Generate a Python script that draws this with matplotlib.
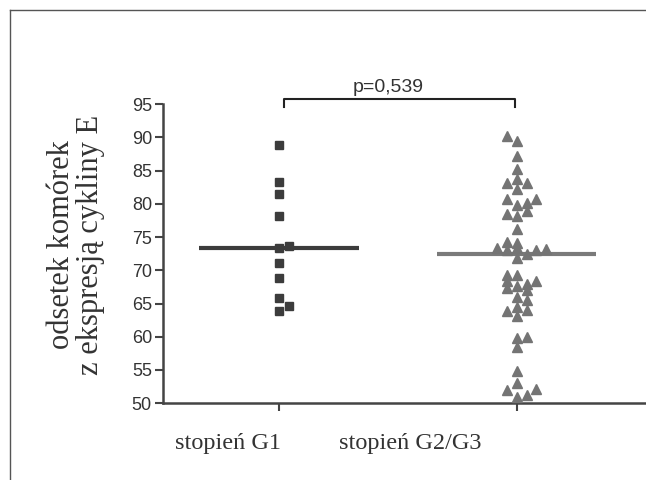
import numpy as np
import matplotlib.pyplot as plt
from matplotlib.lines import Line2D

# values
groups = ["stopień G1", "stopień G2/G3"]

g1_vals = [88.8, 83.3, 81.5, 78.2, 73.3, 73.7, 71.1, 68.8, 65.9, 64.7, 63.8]
g1_slot = [0, 0, 0, 0, 0, 1, 0, 0, 0, 1, 0]

g2_vals = [90.2, 89.4, 87.2, 85.3, 83.1, 83.7, 83.2, 82.2, 80.8, 79.9, 80.1, 80.7,
           78.9, 78.4, 78.2, 76.2,
           74.3, 74.1, 73.3, 73.1, 73.4, 71.9, 72.4, 73.1, 73.2,
           69.3, 69.3, 68.4, 67.3, 67.6, 67.9, 68.4, 66.0, 67.0, 65.6, 64.5, 64.1,
           63.8, 63.1, 59.8, 60.0, 58.4, 54.8, 53.1, 52.0, 52.1, 51.2, 51.0]
g2_slot = [-1, 0, 0, 0, -1, 0, 1, 0, -1, 0, 1, 2,
           1, -1, 0, 0,
           -1, 0, -2, -1, 0, 0, 1, 2, 3,
           -1, 0, -1, -1, 0, 1, 2, 0, 1, 1, 0, 1,
           -1, 0, 0, 1, 0, 0, 0, -1, 2, 1, 0]

medians = [73.4, 72.45]
p_text = "p=0,539"

fig = plt.figure(figsize=(6.46, 4.8), dpi=100)
ax = fig.add_axes([163/646, 0.160, 1 - 163/646, 0.623])

step = 0.041  # horizontal spacing of jittered points
ax.plot(np.zeros(len(g1_vals)) + np.array(g1_slot) * step, g1_vals, 's',
        color='#3c3c3c', markersize=5.5, zorder=3)
ax.plot(np.ones(len(g2_vals)) + np.array(g2_slot) * step, g2_vals, '^',
        color='#747474', markersize=6.5, zorder=3)

ax.hlines(medians[0], -0.336, 0.336, color='#3c3c3c', lw=3, zorder=2)
ax.hlines(medians[1], 0.662, 1.33, color='#7a7a7a', lw=3, zorder=2)

ax.set_xlim(-0.487, 1.542)
ax.set_ylim(50, 95)
ax.set_yticks(np.arange(50, 96, 5))
ax.set_xticks([0, 1])
ax.set_xticklabels(["", ""])
for s in ['top', 'right']:
    ax.spines[s].set_visible(False)
for s in ['left', 'bottom']:
    ax.spines[s].set_color('#444444')
    ax.spines[s].set_linewidth(1.8)
ax.tick_params(axis='both', colors='#444444', width=1.5, length=6,
               labelsize=13, labelcolor='#333333', pad=2)
for lab in ax.get_yticklabels():
    lab.set_fontfamily('Liberation Sans')

# group labels, placed as in the original (left of the ticks)
ax.text(-0.214, -0.135, groups[0], transform=ax.get_xaxis_transform(),
        ha='center', va='center', fontsize=17.5, family='Liberation Serif', color='#333333')
ax.text(0.551, -0.135, groups[1], transform=ax.get_xaxis_transform(),
        ha='center', va='center', fontsize=17.5, family='Liberation Serif', color='#333333')

fig.text(76/646, 0.49, "odsetek komórek\nz ekspresją cykliny E", rotation=90,
         ha='center', va='center', multialignment='center', fontsize=22,
         family='Liberation Serif', color='#333333', linespacing=1.0)

# significance bracket
ax.plot([0.02, 0.02, 0.99, 0.99], [94.6, 95.85, 95.85, 94.6], color='#222222',
        lw=1.5, clip_on=False)
ax.text(0.46, 96.3, p_text, ha='center', va='bottom', fontsize=14,
        family='Liberation Sans', color='#333333')

# outer frame
fig.add_artist(Line2D([10/646, 10/646], [0, 1 - 10/480], color='#555555', lw=1))
fig.add_artist(Line2D([10/646, 1], [1 - 10/480, 1 - 10/480], color='#555555', lw=1))

plt.savefig("out.png", dpi=100)
